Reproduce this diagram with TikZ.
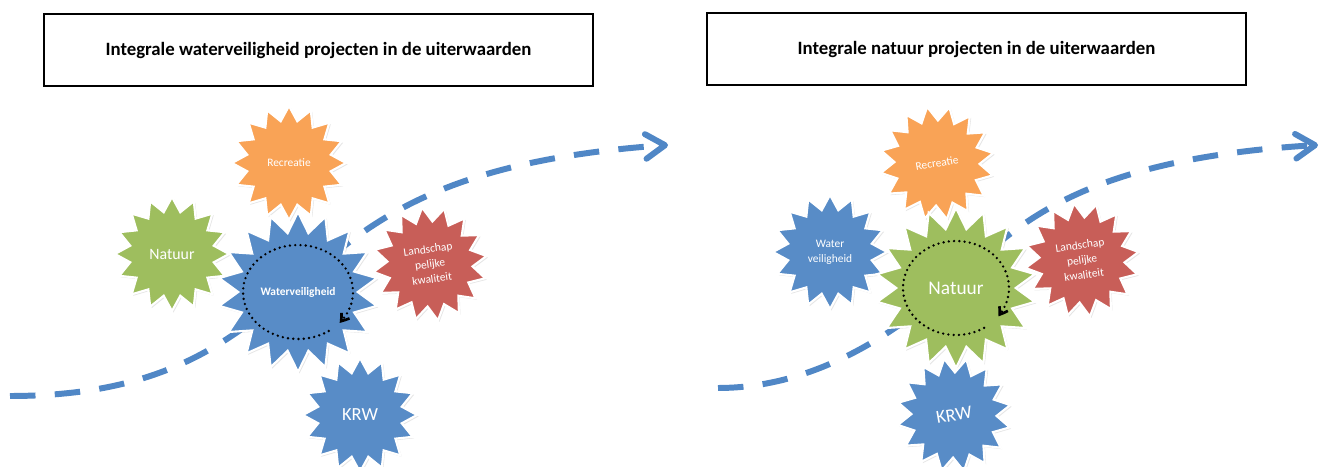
\documentclass[tikz,border=0pt]{standalone}
\usepackage{fontspec}
\setmainfont{Carlito}
\usetikzlibrary{shapes.geometric, arrows.meta, bending, shadows}
\definecolor{blauw}{RGB}{88,140,199}
\definecolor{groen}{RGB}{158,190,94}
\definecolor{oranje}{RGB}{249,163,86}
\definecolor{rood}{RGB}{200,94,88}
\definecolor{stroomblauw}{RGB}{80,135,198}

\begin{document}
\begin{tikzpicture}[x=0.2mm, y=-0.2mm]
  \tikzset{titlebox/.style = {draw, line width=0.9pt, minimum height=14.4mm, font=\bfseries\fontsize{10.7}{12}\selectfont}}
  \tikzset{ster/.style = {star, star points=16, star point ratio=1.34, minimum size=22.8mm, inner sep=0pt,
      draw=white, line width=1.2pt, text=white, align=center,
      drop shadow={opacity=0.2, shadow xshift=0.3mm, shadow yshift=-0.3mm}}}
  \tikzset{grootster/.style = {ster, star points=18, minimum size=32mm}}
  \tikzset{stroom/.style = {stroomblauw, line width=3.4pt, dash pattern=on 14.5pt off 11pt,
      -{Straight Barb[length=11pt, width=14pt, line cap=round, line join=round]}}}
  \tikzset{rondje/.style = {line width=1.5pt, line cap=round, dash pattern=on 0pt off 3pt,
      -{Straight Barb[length=4pt, width=5.5pt, bend]}}}

  \fill[white] (0,0) rectangle (1322,467);
  \useasboundingbox (0,0) rectangle (1322,467);

  % titels
  \node[titlebox, minimum width=109.8mm] (titelL) at (318.5,50) {Integrale waterveiligheid projecten in de uiterwaarden};
  \node[titlebox, minimum width=107.8mm] (titelR) at (976.5,49) {Integrale natuur projecten in de uiterwaarden};

  % stroomlijnen, achter de sterren
  \coordinate (stroomL-begin) at (10,396);
  \coordinate (stroomL-mid) at (303,280);
  \coordinate (stroomL-eind) at (668,145);
  \draw[stroom] (stroomL-begin) .. controls (170,396) and (235,337) .. (stroomL-mid)
                .. controls (370,223) and (440,160) .. (stroomL-eind);

  \coordinate (stroomR-begin) at (718,388);
  \coordinate (stroomR-mid) at (963,274);
  \coordinate (stroomR-eind) at (1318,145);
  \draw[stroom] (stroomR-begin) .. controls (820,388) and (903,328) .. (stroomR-mid)
                .. controls (1020,223) and (1085,158) .. (stroomR-eind);

  % links: waterveiligheid
  \node[ster, fill=oranje, font=\fontsize{6.5}{7}\selectfont] (recreatieL) at (289,163) {Recreatie};
  \node[ster, fill=groen, font=\fontsize{9}{10}\selectfont] (natuurL) at (172,254) {Natuur};
  \node[ster, fill=rood, rotate=8, font=\fontsize{6.5}{8.6}\selectfont] (landschapL) at (430,264) {Landschap\\pelijke\\kwaliteit};
  \node[grootster, fill=blauw, font=\bfseries\fontsize{6.5}{7}\selectfont] (wvL) at (298,292) {Waterveiligheid};
  \node[ster, fill=blauw, font=\fontsize{10.5}{12}\selectfont] (krwL) at (360,415) {KRW};

  \draw[rondje] (wvL) ++(56:55 and 47) arc[start angle=56, end angle=401, x radius=55, y radius=47];

  % rechts: natuur
  \node[ster, fill=oranje, rotate=10, font=\fontsize{6.5}{7}\selectfont] (recreatieR) at (937,163) {Recreatie};
  \node[ster, fill=blauw, font=\fontsize{6.5}{8.6}\selectfont] (waterR) at (830,252) {Water\\veiligheid};
  \node[ster, fill=rood, rotate=8, font=\fontsize{6.5}{8.6}\selectfont] (landschapR) at (1082,260) {Landschap\\pelijke\\kwaliteit};
  \node[grootster, fill=groen, font=\fontsize{11}{12}\selectfont] (natuurR) at (956,288) {Natuur};
  \node[ster, fill=blauw, rotate=10, font=\fontsize{10.5}{12}\selectfont] (krwR) at (954,415) {KRW};

  \draw[rondje] (natuurR) ++(58:53 and 47) arc[start angle=58, end angle=397, x radius=53, y radius=47];
\end{tikzpicture}
\end{document}
